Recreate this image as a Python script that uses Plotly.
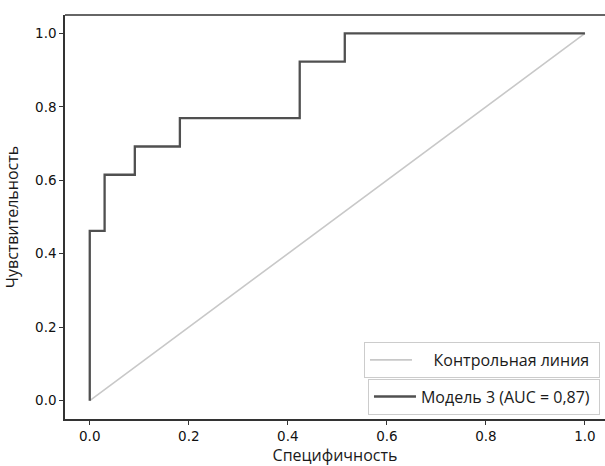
import plotly.graph_objects as go

# ROC data (1 - specificity on x axis, sensitivity on y axis)
fpr = [0.0, 0.0, 0.030, 0.030, 0.091, 0.091, 0.182, 0.182, 0.424, 0.424, 0.515, 0.515, 1.0]
tpr = [0.0, 0.462, 0.462, 0.615, 0.615, 0.692, 0.692, 0.769, 0.769, 0.923, 0.923, 1.0, 1.0]
diag_x = [0.0, 1.0]
diag_y = [0.0, 1.0]
ticks = [0.0, 0.2, 0.4, 0.6, 0.8, 1.0]
tick_labels = ["0.0", "0.2", "0.4", "0.6", "0.8", "1.0"]

W, H = 605, 466
ml, mt, mb = 65, 15, 47
NB = "\u00a0"

fig = go.Figure()
fig.add_trace(go.Scatter(x=diag_x, y=diag_y, mode="lines",
                         line=dict(color="#c8c8c8", width=1.6), showlegend=True,
                         name=NB * 4 + "Контрольная линия" + NB, legend="legend"))
fig.add_trace(go.Scatter(x=fpr, y=tpr, mode="lines",
                         line=dict(color="#505050", width=2.3), showlegend=True,
                         name="Модель 3 (AUC = 0,87)" + NB, legend="legend2"))

axis_common = dict(showgrid=False, zeroline=False, showline=True, linecolor="#333333",
                   linewidth=1.5, ticks="outside", ticklen=4, tickcolor="#333333",
                   tickvals=ticks, ticktext=tick_labels,
                   tickfont=dict(family="DejaVu Sans", size=13.5, color="#111111"))

legend_common = dict(xanchor="right", yanchor="middle", itemwidth=42,
                     bordercolor="#cccccc", borderwidth=1, bgcolor="white",
                     font=dict(family="Open Sans", size=16, color="#1a1a1a"))

fig.update_layout(
    width=W, height=H, showlegend=True,
    margin=dict(l=ml, r=0, t=mt, b=mb),
    paper_bgcolor="white", plot_bgcolor="white",
    xaxis=dict(range=[-0.05, 1.0405], **axis_common,
               title=dict(text="Специфичность", standoff=8,
                          font=dict(family="Open Sans", size=16, color="#1a1a1a"))),
    yaxis=dict(range=[-0.05, 1.05], **axis_common,
               title=dict(text="Чувствительность", standoff=12,
                          font=dict(family="Open Sans", size=16, color="#1a1a1a"))),
    legend=dict(x=0.9907, y=0.146, **legend_common),
    legend2=dict(x=0.9907, y=0.0554, visible=True, **legend_common),
    shapes=[dict(type="line", xref="paper", yref="paper", x0=0, x1=1, y0=1, y1=1,
                 line=dict(color="#333333", width=1.5))],
)

fig.write_html("out.html")
